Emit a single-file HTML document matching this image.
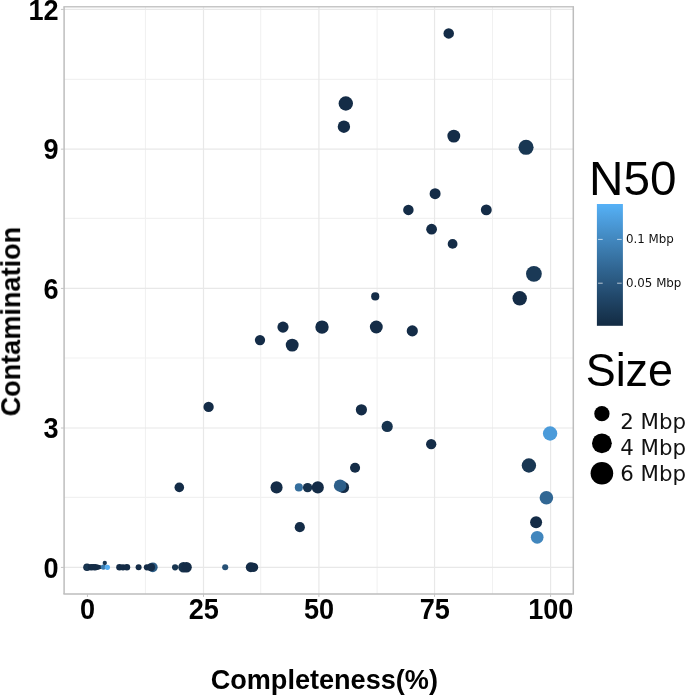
<!DOCTYPE html>
<html lang="en"><head><meta charset="utf-8"><title>Completeness vs Contamination</title>
<style>html,body{margin:0;padding:0;background:#fff;overflow:hidden}svg{display:block}.ab{font-family:"Liberation Sans",Arial,sans-serif;font-weight:bold;font-size:26.67px;fill:#000}.lt{font-family:"Liberation Sans",Arial,sans-serif;fill:#000}.dj{font-family:"DejaVu Sans",Verdana,sans-serif;fill:#111}</style></head><body>
<svg width="685" height="695" viewBox="0 0 685 695">
<rect width="685" height="695" fill="#fff"/>
<defs><linearGradient id="cb" x1="0" y1="0" x2="0" y2="1">
<stop offset="0.000" stop-color="#56b1f7"/>
<stop offset="0.050" stop-color="#52aaed"/>
<stop offset="0.100" stop-color="#4fa2e3"/>
<stop offset="0.150" stop-color="#4b9bda"/>
<stop offset="0.200" stop-color="#4894d0"/>
<stop offset="0.250" stop-color="#448dc6"/>
<stop offset="0.300" stop-color="#4186bd"/>
<stop offset="0.350" stop-color="#3d7fb4"/>
<stop offset="0.400" stop-color="#3a78aa"/>
<stop offset="0.450" stop-color="#3671a1"/>
<stop offset="0.500" stop-color="#336a98"/>
<stop offset="0.550" stop-color="#2f638f"/>
<stop offset="0.600" stop-color="#2c5d86"/>
<stop offset="0.650" stop-color="#29567d"/>
<stop offset="0.700" stop-color="#265075"/>
<stop offset="0.750" stop-color="#22496c"/>
<stop offset="0.800" stop-color="#1f4364"/>
<stop offset="0.850" stop-color="#1c3d5b"/>
<stop offset="0.900" stop-color="#193753"/>
<stop offset="0.950" stop-color="#16314b"/>
<stop offset="1.000" stop-color="#132b43"/>
</linearGradient>
<clipPath id="pc"><rect x="64.1" y="6.85" width="509.19999999999993" height="587.05"/></clipPath></defs>
<g clip-path="url(#pc)">
<line x1="145.45" x2="145.45" y1="6.85" y2="593.9" stroke="#f1f1f1" stroke-width="1.1"/>
<line x1="260.70" x2="260.70" y1="6.85" y2="593.9" stroke="#f1f1f1" stroke-width="1.1"/>
<line x1="377.10" x2="377.10" y1="6.85" y2="593.9" stroke="#f1f1f1" stroke-width="1.1"/>
<line x1="492.50" x2="492.50" y1="6.85" y2="593.9" stroke="#f1f1f1" stroke-width="1.1"/>
<line y1="497.40" y2="497.40" x1="64.1" x2="573.3" stroke="#f1f1f1" stroke-width="1.1"/>
<line y1="358.05" y2="358.05" x1="64.1" x2="573.3" stroke="#f1f1f1" stroke-width="1.1"/>
<line y1="218.35" y2="218.35" x1="64.1" x2="573.3" stroke="#f1f1f1" stroke-width="1.1"/>
<line y1="79.40" y2="79.40" x1="64.1" x2="573.3" stroke="#f1f1f1" stroke-width="1.1"/>
<line x1="203.50" x2="203.50" y1="6.85" y2="593.9" stroke="#e8e8e8" stroke-width="1.2"/>
<line x1="318.90" x2="318.90" y1="6.85" y2="593.9" stroke="#e8e8e8" stroke-width="1.2"/>
<line x1="434.55" x2="434.55" y1="6.85" y2="593.9" stroke="#e8e8e8" stroke-width="1.2"/>
<line x1="550.60" x2="550.60" y1="6.85" y2="593.9" stroke="#e8e8e8" stroke-width="1.2"/>
<line y1="567.40" y2="567.40" x1="64.1" x2="573.3" stroke="#e8e8e8" stroke-width="1.2"/>
<line y1="428.00" y2="428.00" x1="64.1" x2="573.3" stroke="#e8e8e8" stroke-width="1.2"/>
<line y1="288.40" y2="288.40" x1="64.1" x2="573.3" stroke="#e8e8e8" stroke-width="1.2"/>
<line y1="149.15" y2="149.15" x1="64.1" x2="573.3" stroke="#e8e8e8" stroke-width="1.2"/>
<line y1="9.40" y2="9.40" x1="64.1" x2="573.3" stroke="#e8e8e8" stroke-width="1.2"/>
</g>
<g>
<circle cx="448.7" cy="33.4" r="5.25" fill="#142c47"/>
<circle cx="345.8" cy="103.5" r="7.2" fill="#142c47"/>
<circle cx="343.9" cy="126.7" r="6.2" fill="#142c47"/>
<circle cx="453.8" cy="136.1" r="6.45" fill="#142c47"/>
<circle cx="526.05" cy="147.3" r="7.55" fill="#193753"/>
<circle cx="435.1" cy="193.7" r="5.5" fill="#142c47"/>
<circle cx="408.4" cy="209.9" r="5.25" fill="#142c47"/>
<circle cx="486.3" cy="209.9" r="5.45" fill="#142c47"/>
<circle cx="431.6" cy="229.2" r="5.4" fill="#142c47"/>
<circle cx="452.6" cy="243.9" r="4.9" fill="#142c47"/>
<circle cx="533.9" cy="273.8" r="7.9" fill="#1a3956"/>
<circle cx="375.25" cy="296.4" r="4.1" fill="#142c47"/>
<circle cx="519.7" cy="298.3" r="7.2" fill="#142c47"/>
<circle cx="283.0" cy="327.1" r="5.6" fill="#142c47"/>
<circle cx="322.0" cy="327.1" r="6.7" fill="#142c47"/>
<circle cx="376.3" cy="327.0" r="6.45" fill="#142c47"/>
<circle cx="412.3" cy="330.9" r="5.6" fill="#142c47"/>
<circle cx="260.0" cy="340.1" r="5.15" fill="#142c47"/>
<circle cx="292.2" cy="345.1" r="6.45" fill="#142c47"/>
<circle cx="208.6" cy="406.9" r="5.15" fill="#142c47"/>
<circle cx="361.4" cy="409.8" r="5.6" fill="#142c47"/>
<circle cx="387.2" cy="426.45" r="5.6" fill="#17334e"/>
<circle cx="431.2" cy="444.2" r="5.15" fill="#142c47"/>
<circle cx="355.05" cy="467.8" r="5.05" fill="#142c47"/>
<circle cx="550.1" cy="433.5" r="7.2" fill="#4b9bda"/>
<circle cx="528.9" cy="465.5" r="7.2" fill="#193753"/>
<circle cx="546.4" cy="497.7" r="6.8" fill="#316794"/>
<circle cx="536.1" cy="522.2" r="6.0" fill="#142c47"/>
<circle cx="537.2" cy="537.3" r="6.35" fill="#4186bd"/>
<circle cx="179.3" cy="487.4" r="4.8" fill="#142c47"/>
<circle cx="276.55" cy="487.4" r="6.05" fill="#142c47"/>
<circle cx="298.85" cy="487.4" r="4.05" fill="#356e9d"/>
<circle cx="307.6" cy="487.6" r="4.7" fill="#17324d"/>
<circle cx="317.8" cy="487.4" r="6.05" fill="#142c47"/>
<circle cx="343.4" cy="487.4" r="5.7" fill="#142c47"/>
<circle cx="340.1" cy="485.65" r="6.25" fill="#2d5f8a"/>
<circle cx="299.8" cy="527.2" r="5.1" fill="#142c47"/>
<circle cx="87.0" cy="567.2" r="3.8" fill="#142c47"/>
<circle cx="87.0" cy="567.2" r="2.9" fill="#183651"/>
<circle cx="91.0" cy="567.2" r="3.2" fill="#142c47"/>
<circle cx="93.2" cy="567.2" r="3.1" fill="#142c47"/>
<circle cx="95.2" cy="567.2" r="3.2" fill="#142c47"/>
<circle cx="97.5" cy="567.2" r="2.7" fill="#142c47"/>
<circle cx="99.5" cy="567.2" r="2.1" fill="#142c47"/>
<circle cx="100.9" cy="567.2" r="1.5" fill="#142c47"/>
<circle cx="103.4" cy="567.1" r="2.7" fill="#3b7bae"/>
<circle cx="107.4" cy="567.3" r="2.6" fill="#54adf1"/>
<circle cx="104.8" cy="563.0" r="2.15" fill="#193753"/>
<circle cx="119.5" cy="567.3" r="3.3" fill="#142c47"/>
<circle cx="123.0" cy="567.3" r="3.1" fill="#142c47"/>
<circle cx="126.9" cy="567.3" r="3.3" fill="#142c47"/>
<circle cx="138.6" cy="567.3" r="3.0" fill="#142c47"/>
<circle cx="146.9" cy="567.3" r="3.1" fill="#142c47"/>
<circle cx="152.8" cy="567.3" r="4.85" fill="#2c5d86"/>
<circle cx="151.0" cy="567.3" r="4.05" fill="#142c47"/>
<circle cx="175.1" cy="567.3" r="3.1" fill="#183651"/>
<circle cx="183.4" cy="567.3" r="5.2" fill="#16314b"/>
<circle cx="186.6" cy="567.3" r="5.2" fill="#142c47"/>
<circle cx="225.2" cy="567.3" r="3.05" fill="#265075"/>
<circle cx="250.8" cy="567.3" r="5.0" fill="#142c47"/>
<circle cx="253.6" cy="567.3" r="4.6" fill="#142c47"/>
</g>
<line x1="63.39999999999999" x2="574.0" y1="6.85" y2="6.85" stroke="#c6c6c6" stroke-width="1.5"/>
<line x1="63.39999999999999" x2="574.0" y1="593.9" y2="593.9" stroke="#bdbdbd" stroke-width="1.5"/>
<line x1="64.1" x2="64.1" y1="6.85" y2="593.9" stroke="#bdbdbd" stroke-width="1.5"/>
<line x1="573.3" x2="573.3" y1="6.85" y2="593.9" stroke="#bdbdbd" stroke-width="1.5"/>
<line x1="87.45" x2="87.45" y1="593.9" y2="596.9" stroke="#c4c4c4" stroke-width="1"/>
<line x1="203.50" x2="203.50" y1="593.9" y2="596.9" stroke="#c4c4c4" stroke-width="1"/>
<line x1="318.90" x2="318.90" y1="593.9" y2="596.9" stroke="#c4c4c4" stroke-width="1"/>
<line x1="434.55" x2="434.55" y1="593.9" y2="596.9" stroke="#c4c4c4" stroke-width="1"/>
<line x1="550.60" x2="550.60" y1="593.9" y2="596.9" stroke="#c4c4c4" stroke-width="1"/>
<line y1="567.40" y2="567.40" x1="60.89999999999999" x2="64.1" stroke="#c4c4c4" stroke-width="1"/>
<line y1="428.00" y2="428.00" x1="60.89999999999999" x2="64.1" stroke="#c4c4c4" stroke-width="1"/>
<line y1="288.40" y2="288.40" x1="60.89999999999999" x2="64.1" stroke="#c4c4c4" stroke-width="1"/>
<line y1="149.15" y2="149.15" x1="60.89999999999999" x2="64.1" stroke="#c4c4c4" stroke-width="1"/>
<line y1="9.40" y2="9.40" x1="60.89999999999999" x2="64.1" stroke="#c4c4c4" stroke-width="1"/>
<g opacity="0.999">
<text class="ab" transform="translate(87.65,619.0) scale(1,1.06)" text-anchor="middle" style="font-size:27.1px">0</text>
<text class="ab" transform="translate(203.7,619.0) scale(1,1.06)" text-anchor="middle" style="font-size:27.1px">25</text>
<text class="ab" transform="translate(319.1,619.0) scale(1,1.06)" text-anchor="middle" style="font-size:27.1px">50</text>
<text class="ab" transform="translate(434.75,619.0) scale(1,1.06)" text-anchor="middle" style="font-size:27.1px">75</text>
<text class="ab" transform="translate(550.8,619.0) scale(1,1.06)" text-anchor="middle" style="font-size:27.1px">100</text>
<text class="ab" transform="translate(58.6,577.5) scale(1,1.06)" text-anchor="end" style="font-size:27.1px">0</text>
<text class="ab" transform="translate(58.6,438.1) scale(1,1.06)" text-anchor="end" style="font-size:27.1px">3</text>
<text class="ab" transform="translate(58.6,298.5) scale(1,1.06)" text-anchor="end" style="font-size:27.1px">6</text>
<text class="ab" transform="translate(58.6,159.25) scale(1,1.06)" text-anchor="end" style="font-size:27.1px">9</text>
<text class="ab" transform="translate(58.6,19.5) scale(1,1.06)" text-anchor="end" style="font-size:27.1px">12</text>
<text class="ab" transform="translate(324.3,689.0) scale(1,1.03)" text-anchor="middle" style="font-size:27.1px">Completeness(%)</text>
<text class="ab" transform="translate(19.9,321.6) rotate(-90) scale(1,1.03)" text-anchor="middle" style="font-size:27.1px">Contamination</text>
<text class="lt" transform="translate(589.1,194.8) scale(1,1.02)" style="font-size:47.7px">N50</text>
</g>
<rect x="596.9" y="204" width="26" height="121.8" fill="url(#cb)"/>
<line x1="598.1" x2="602.7" y1="239.4" y2="239.4" stroke="#fff" stroke-opacity="0.75" stroke-width="0.9"/>
<line x1="617.1" x2="621.7" y1="239.4" y2="239.4" stroke="#fff" stroke-opacity="0.75" stroke-width="0.9"/>
<line x1="598.1" x2="602.7" y1="283.2" y2="283.2" stroke="#fff" stroke-opacity="0.75" stroke-width="0.9"/>
<line x1="617.1" x2="621.7" y1="283.2" y2="283.2" stroke="#fff" stroke-opacity="0.75" stroke-width="0.9"/>
<g opacity="0.999">
<text class="dj" transform="translate(626.0,243.1)" style="font-size:11.85px">0.1 Mbp</text>
<text class="dj" transform="translate(626.0,286.9)" style="font-size:11.85px">0.05 Mbp</text>
<text class="lt" transform="translate(585.7,385.6) scale(1,1.03)" style="font-size:44.9px">Size</text>
<text class="dj" transform="translate(620.2,428.6)" style="font-size:21.33px">2 Mbp</text>
<text class="dj" transform="translate(620.2,454.6)" style="font-size:21.33px">4 Mbp</text>
<text class="dj" transform="translate(620.2,480.9)" style="font-size:21.33px">6 Mbp</text>
</g>
<circle cx="601.9" cy="413.7" r="7.65" fill="#000"/>
<circle cx="601.9" cy="443.3" r="9.9" fill="#000"/>
<circle cx="601.9" cy="473.2" r="11.3" fill="#000"/>
</svg></body></html>
